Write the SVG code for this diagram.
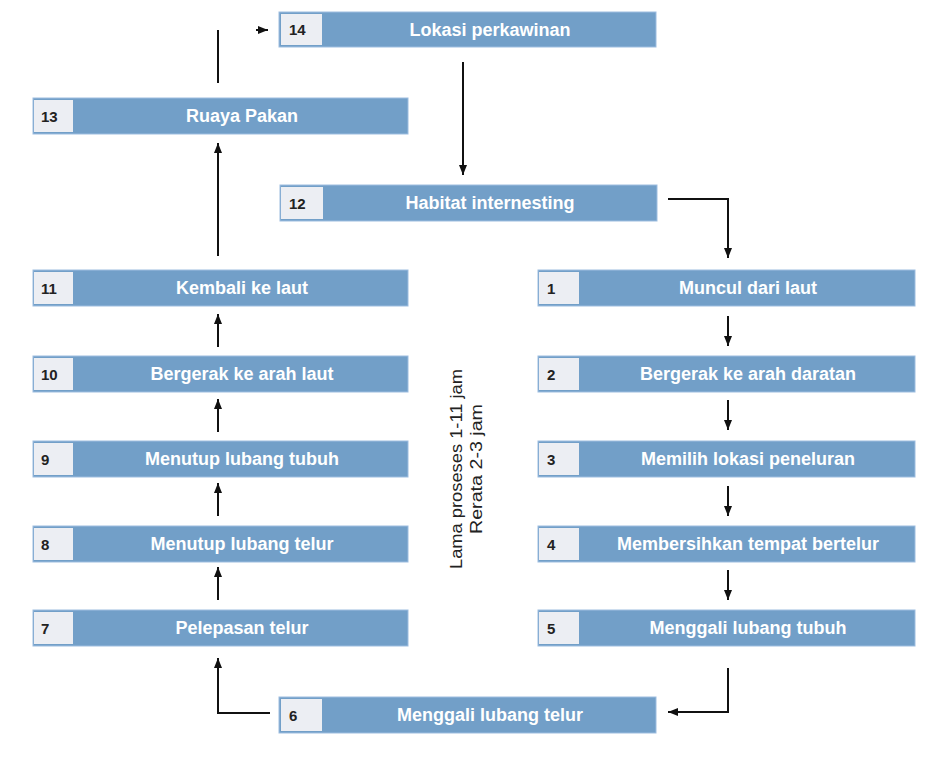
<svg xmlns="http://www.w3.org/2000/svg" width="941" height="767" viewBox="0 0 941 767">
<defs>
<marker id="ah" viewBox="0 0 10 10" refX="10" refY="5" markerWidth="10" markerHeight="10" markerUnits="userSpaceOnUse" orient="auto">
<path d="M0,1 L10,5 L0,9 Z" fill="#111"/>
</marker>
</defs>
<style>
.bar{fill:#729fc8;stroke:#9dbde0;stroke-width:1}
.num{fill:#eceef3}
.nt{font-family:"Liberation Sans",Arial,sans-serif;font-weight:bold;font-size:15px;fill:#222}
.lt{font-family:"Liberation Sans",Arial,sans-serif;font-weight:bold;font-size:18px;fill:#fff;text-anchor:middle}
.c{fill:none;stroke:#111;stroke-width:2}
.vt{font-family:"Liberation Sans",Arial,sans-serif;font-size:16px;fill:#222;text-anchor:middle}
</style>
<rect width="941" height="767" fill="#fff"/>
<g id="connectors">
<line class="c" x1="218" y1="83" x2="218" y2="30"/>
<line class="c" x1="256" y1="30" x2="268" y2="30" marker-end="url(#ah)"/>
<line class="c" x1="463" y1="62" x2="463" y2="175" marker-end="url(#ah)"/>
<polyline class="c" points="668,199 728,199 728,258" marker-end="url(#ah)"/>
<line class="c" x1="728" y1="316" x2="728" y2="346" marker-end="url(#ah)"/>
<line class="c" x1="728" y1="400" x2="728" y2="430" marker-end="url(#ah)"/>
<line class="c" x1="728" y1="486" x2="728" y2="516" marker-end="url(#ah)"/>
<line class="c" x1="728" y1="570" x2="728" y2="600" marker-end="url(#ah)"/>
<polyline class="c" points="728,668 728,712 668,712" marker-end="url(#ah)"/>
<polyline class="c" points="270,713 218,713 218,658" marker-end="url(#ah)"/>
<line class="c" x1="218" y1="600" x2="218" y2="567" marker-end="url(#ah)"/>
<line class="c" x1="218" y1="516" x2="218" y2="483" marker-end="url(#ah)"/>
<line class="c" x1="218" y1="432" x2="218" y2="399" marker-end="url(#ah)"/>
<line class="c" x1="218" y1="347" x2="218" y2="314" marker-end="url(#ah)"/>
<line class="c" x1="218" y1="256" x2="218" y2="143" marker-end="url(#ah)"/>
</g>
<g id="n14"><rect class="bar" x="279" y="12" width="377" height="35"/><rect class="num" x="281" y="14" width="41" height="31"/><text class="nt" x="289" y="35">14</text><text class="lt" x="490" y="36">Lokasi perkawinan</text></g>
<g id="n13"><rect class="bar" x="33" y="98" width="375" height="36"/><rect class="num" x="34" y="100" width="39" height="32"/><text class="nt" x="41" y="122">13</text><text class="lt" x="242" y="122">Ruaya Pakan</text></g>
<g id="n12"><rect class="bar" x="280" y="185" width="377" height="36"/><rect class="num" x="281" y="187" width="42" height="32"/><text class="nt" x="289" y="209">12</text><text class="lt" x="490" y="209">Habitat internesting</text></g>
<g id="n11"><rect class="bar" x="33" y="270" width="375" height="36"/><rect class="num" x="34" y="272" width="39" height="32"/><text class="nt" x="41" y="294">11</text><text class="lt" x="242" y="294">Kembali ke laut</text></g>
<g id="n10"><rect class="bar" x="33" y="356" width="375" height="36"/><rect class="num" x="34" y="358" width="39" height="32"/><text class="nt" x="41" y="380">10</text><text class="lt" x="242" y="380">Bergerak ke arah laut</text></g>
<g id="n9"><rect class="bar" x="33" y="441" width="375" height="36"/><rect class="num" x="34" y="443" width="39" height="32"/><text class="nt" x="41" y="465">9</text><text class="lt" x="242" y="465">Menutup lubang tubuh</text></g>
<g id="n8"><rect class="bar" x="33" y="526" width="375" height="36"/><rect class="num" x="34" y="528" width="39" height="32"/><text class="nt" x="41" y="550">8</text><text class="lt" x="242" y="550">Menutup lubang telur</text></g>
<g id="n7"><rect class="bar" x="33" y="610" width="375" height="36"/><rect class="num" x="34" y="612" width="39" height="32"/><text class="nt" x="41" y="634">7</text><text class="lt" x="242" y="634">Pelepasan telur</text></g>
<g id="n6"><rect class="bar" x="279" y="697" width="377" height="36"/><rect class="num" x="281" y="699" width="41" height="32"/><text class="nt" x="289" y="721">6</text><text class="lt" x="490" y="721">Menggali lubang telur</text></g>
<g id="n1"><rect class="bar" x="538" y="270" width="377" height="36"/><rect class="num" x="539" y="272" width="40" height="32"/><text class="nt" x="547" y="294">1</text><text class="lt" x="748" y="294">Muncul dari laut</text></g>
<g id="n2"><rect class="bar" x="538" y="356" width="377" height="36"/><rect class="num" x="539" y="358" width="40" height="32"/><text class="nt" x="547" y="380">2</text><text class="lt" x="748" y="380">Bergerak ke arah daratan</text></g>
<g id="n3"><rect class="bar" x="538" y="441" width="377" height="36"/><rect class="num" x="539" y="443" width="40" height="32"/><text class="nt" x="547" y="465">3</text><text class="lt" x="748" y="465">Memilih lokasi peneluran</text></g>
<g id="n4"><rect class="bar" x="538" y="526" width="377" height="36"/><rect class="num" x="539" y="528" width="40" height="32"/><text class="nt" x="547" y="550">4</text><text class="lt" x="748" y="550">Membersihkan tempat bertelur</text></g>
<g id="n5"><rect class="bar" x="538" y="610" width="377" height="36"/><rect class="num" x="539" y="612" width="40" height="32"/><text class="nt" x="547" y="634">5</text><text class="lt" x="748" y="634">Menggali lubang tubuh</text></g>
<g id="note">
<text class="vt" transform="translate(462,469) rotate(-90)" textLength="200" lengthAdjust="spacingAndGlyphs">Lama proseses 1-11 jam</text>
<text class="vt" transform="translate(482,469) rotate(-90)" textLength="130" lengthAdjust="spacingAndGlyphs">Rerata 2-3 jam</text>
</g>
</svg>
